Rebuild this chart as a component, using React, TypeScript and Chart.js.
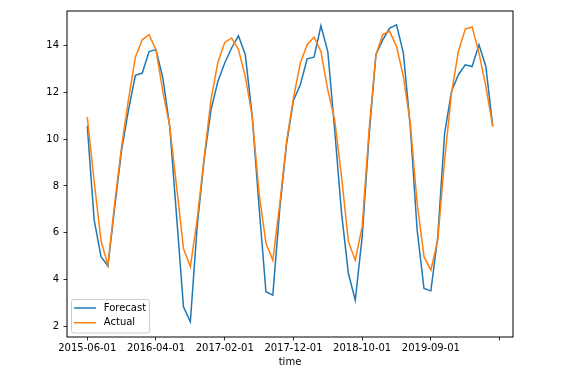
import React, { useEffect, useRef } from "react";
import { Chart, registerables } from "chart.js";

Chart.register(...registerables);

const xTickLabels = ["2015-06-01", "2016-04-01", "2017-02-01", "2017-12-01", "2018-10-01", "2019-09-01", ""];
const yTicks = [2, 4, 6, 8, 10, 12, 14];

const forecast = [
  10.57, 6.55, 4.98, 4.58, 7.1, 9.54, 11.25, 12.72, 12.82, 13.74,
  13.82, 12.6, 10.54, 6.69, 2.84, 2.2, 6.3, 9.11, 11.25, 12.46,
  13.25, 13.89, 14.41, 13.6, 10.97, 7.11, 3.48, 3.34, 7.0, 9.8,
  11.65, 12.32, 13.43, 13.5, 14.84, 13.74, 10.4, 6.84, 4.26, 3.12,
  5.83, 10.11, 13.6, 14.24, 14.74, 14.88, 13.67, 10.54, 6.12, 3.62,
  3.52, 5.83, 10.25, 12.03, 12.75, 13.17, 13.1, 14.03, 13.1, 10.54,
];

const actual = [
  10.94, 8.2, 5.66, 4.62, 7.3, 9.7, 11.7, 13.5, 14.24, 14.46,
  13.8, 12.03, 10.54, 7.97, 5.33, 4.55, 6.6, 9.2, 11.68, 13.27,
  14.13, 14.32, 13.82, 12.67, 10.97, 7.69, 5.55, 4.83, 7.2, 9.9,
  11.75, 13.25, 14.03, 14.36, 13.74, 12.1, 10.82, 8.4, 5.62, 4.83,
  6.26, 10.39, 13.6, 14.46, 14.6, 13.96, 12.67, 10.68, 7.26, 4.98,
  4.41, 5.69, 9.11, 11.96, 13.74, 14.7, 14.79, 13.67, 12.25, 10.54,
];

const seriesNames = ["Forecast", "Actual"];
const seriesColors = ["#1f77b4", "#ff7f0e"];

const FONT = '"DejaVu Sans", sans-serif';

const framePlugin = {
  id: "frameAndLegend",
  afterDraw(chart: any) {
    const { ctx, chartArea } = chart;
    ctx.save();
    ctx.strokeStyle = "#000";
    ctx.lineWidth = 1;
    ctx.strokeRect(chartArea.left, chartArea.top, chartArea.right - chartArea.left, chartArea.bottom - chartArea.top);

    // legend box (lower left, inside axes)
    const bx = chartArea.left + 4.5;
    const by = chartArea.bottom - 37.5;
    const bw = 78;
    const bh = 33.5;
    ctx.beginPath();
    ctx.roundRect(bx, by, bw, bh, 2.5);
    ctx.fillStyle = "rgba(255,255,255,0.8)";
    ctx.fill();
    ctx.strokeStyle = "#cccccc";
    ctx.lineWidth = 1;
    ctx.stroke();

    ctx.font = `10px ${FONT}`;
    ctx.textBaseline = "middle";
    ctx.textAlign = "left";
    seriesNames.forEach((name, k) => {
      const yy = by + 8.5 + k * 14.7;
      ctx.beginPath();
      ctx.strokeStyle = seriesColors[k];
      ctx.lineWidth = 1.5;
      ctx.moveTo(bx + 2.5, yy);
      ctx.lineTo(bx + 24.5, yy);
      ctx.stroke();
      ctx.fillStyle = "#000";
      ctx.fillText(name, bx + 32.3, yy);
    });
    ctx.restore();
  },
};

export default function App() {
  const ref = useRef<HTMLCanvasElement | null>(null);

  useEffect(() => {
    if (!ref.current) return;
    const mk = (arr: number[]) => arr.map((v, i) => ({ x: i, y: v }));
    const chart = new Chart(ref.current, {
      type: "line",
      data: {
        datasets: [
          {
            label: seriesNames[0],
            data: mk(forecast),
            borderColor: seriesColors[0],
            backgroundColor: seriesColors[0],
            borderWidth: 1.5,
            pointRadius: 0,
            tension: 0,
            order: 1,
          },
          {
            label: seriesNames[1],
            data: mk(actual),
            borderColor: seriesColors[1],
            backgroundColor: seriesColors[1],
            borderWidth: 1.5,
            pointRadius: 0,
            tension: 0,
            order: 0,
          },
        ],
      },
      options: {
        animation: false,
        responsive: true,
        maintainAspectRatio: false,
        layout: { padding: { top: 11, right: 59, left: 0, bottom: 0 } },
        plugins: { legend: { display: false }, tooltip: { enabled: false } },
        scales: {
          x: {
            type: "linear",
            min: -2.95,
            max: 61.95,
            afterBuildTicks: (s: any) => {
              s.ticks = xTickLabels.map((_, k) => ({ value: k * 10 }));
            },
            afterFit: (s: any) => {
              s.height = 38;
            },
            ticks: {
              autoSkip: false,
              maxRotation: 0,
              minRotation: 0,
              color: "#000",
              padding: 1.5,
              font: { family: FONT, size: 10 },
              callback: (_v: any, i: number) => xTickLabels[i] ?? "",
            },
            grid: {
              display: true,
              drawOnChartArea: false,
              drawTicks: true,
              tickLength: 3.5,
              tickColor: "#000",
              tickWidth: 0.8,
            },
            border: { display: false },
            title: {
              display: true,
              text: "time",
              color: "#000",
              font: { family: FONT, size: 10 },
              padding: { top: 0, bottom: 7 },
            },
          },
          y: {
            type: "linear",
            min: 1.55,
            max: 15.47,
            afterBuildTicks: (s: any) => {
              s.ticks = yTicks.map((v) => ({ value: v }));
            },
            afterFit: (s: any) => {
              s.width = 67;
            },
            ticks: {
              autoSkip: false,
              color: "#000",
              padding: 4.5,
              font: { family: FONT, size: 10 },
              callback: (v: any) => String(v),
            },
            grid: {
              display: true,
              drawOnChartArea: false,
              drawTicks: true,
              tickLength: 3.5,
              tickColor: "#000",
              tickWidth: 0.8,
            },
            border: { display: false },
          },
        },
      },
      plugins: [framePlugin],
    });
    return () => chart.destroy();
  }, []);

  return (
    <div style={{ position: "fixed", left: 0, top: 0, width: 572, height: 375, background: "#fff" }}>
      <canvas ref={ref} />
    </div>
  );
}
